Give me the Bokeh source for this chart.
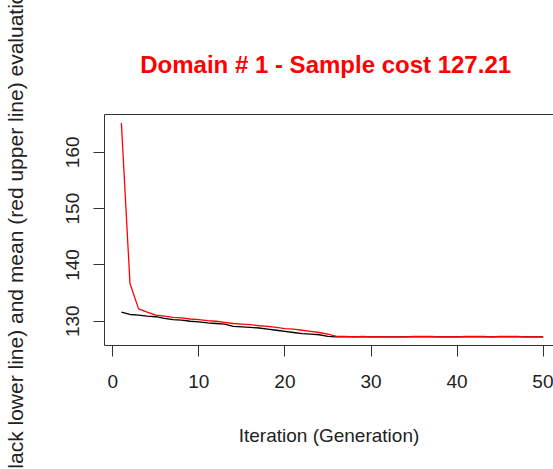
from bokeh.plotting import figure
from bokeh.models import Range1d, LinearAxis, FixedTicker
from bokeh.embed import file_html
from bokeh.resources import INLINE

# ---- data ----
iterations = list(range(1, 51))
best = [131.6, 131.2, 131.1, 130.9, 130.8, 130.5, 130.3, 130.2, 130.0, 129.9,
        129.7, 129.6, 129.5, 129.1, 129.0, 128.9, 128.8, 128.6, 128.4, 128.2,
        128.0, 127.8, 127.7, 127.6, 127.3, 127.21, 127.21, 127.21, 127.21, 127.21,
        127.21, 127.21, 127.21, 127.21, 127.21, 127.21, 127.21, 127.21, 127.21, 127.21,
        127.21, 127.21, 127.21, 127.21, 127.21, 127.21, 127.21, 127.21, 127.21, 127.21]
mean = [165.2, 136.7, 132.2, 131.6, 131.1, 130.9, 130.7, 130.6, 130.4, 130.3,
        130.1, 130.0, 129.8, 129.6, 129.5, 129.4, 129.2, 129.1, 128.9, 128.7,
        128.6, 128.4, 128.2, 128.0, 127.7, 127.3, 127.3, 127.21, 127.3, 127.21,
        127.21, 127.21, 127.21, 127.21, 127.3, 127.3, 127.3, 127.21, 127.21, 127.21,
        127.3, 127.3, 127.3, 127.21, 127.3, 127.3, 127.3, 127.21, 127.21, 127.21]
x_ticks = [0, 10, 20, 30, 40, 50]
y_ticks = [130, 140, 150, 160]
title_text = "Domain # 1  - Sample cost 127.21"
x_label = "Iteration (Generation)"
y_label = "Best (black lower line) and mean (red upper line) evaluation value"

FONT = "Liberation Sans"
AX = "#333333"

W, H = 553, 469
BL, BT, BB = 104, 114, 124          # borders (px)

lo = min(best + mean)
hi = max(best + mean)
pad = 0.04 * (hi - lo)
xpad = 0.04 * (iterations[-1] - iterations[0])
x0, x1 = iterations[0] - xpad, 51.2
y0, y1 = lo - pad, hi + pad

p = figure(width=W, height=H, output_backend="svg", toolbar_location=None,
           x_range=Range1d(x0, x1), y_range=Range1d(y0, y1),
           min_border_left=BL, min_border_right=0, min_border_top=BT,
           min_border_bottom=BB)

p.outline_line_color = None
p.grid.visible = False
p.background_fill_color = "white"
p.border_fill_color = "white"

# axes
for ax in (p.xaxis[0], p.yaxis[0]):
    ax.axis_line_color = AX
    ax.major_tick_line_color = AX
    ax.major_tick_out = 11
    ax.major_tick_in = 0
    ax.minor_tick_line_color = None
    ax.minor_tick_out = 0
    ax.minor_tick_in = 0
    ax.major_label_text_font = FONT
    ax.major_label_text_font_size = "19px"
    ax.major_label_text_color = "#222222"
    ax.axis_label_text_font = FONT
    ax.axis_label_text_font_size = "19px"
    ax.axis_label_text_font_style = "normal"
    ax.axis_label_text_color = "#222222"

p.xaxis[0].ticker = FixedTicker(ticks=x_ticks)
p.yaxis[0].ticker = FixedTicker(ticks=y_ticks)
p.xaxis[0].axis_label = x_label
p.xaxis[0].major_label_standoff = 18
p.xaxis[0].axis_label_standoff = 34
p.yaxis[0].major_label_orientation = "vertical"
p.yaxis[0].major_label_standoff = 14

# top border line of the box; it also carries the main title
top = LinearAxis(ticker=FixedTicker(ticks=[]), axis_line_color=AX,
                 major_tick_out=0, major_tick_in=0, minor_tick_out=0, minor_tick_in=0,
                 major_label_text_font_size="0px",
                 axis_label=title_text, axis_label_standoff=37,
                 axis_label_text_font=FONT, axis_label_text_font_style="bold",
                 axis_label_text_font_size="24px", axis_label_text_color="#FF0000")
p.add_layout(top, "above")

# y-axis title on a bare second left axis, near the left edge
ytitle = LinearAxis(ticker=FixedTicker(ticks=[]), axis_line_color=None,
                    major_tick_out=0, major_tick_in=0, minor_tick_out=0, minor_tick_in=0,
                    major_label_text_font_size="0px",
                    axis_label=y_label, axis_label_standoff=37,
                    axis_label_text_font=FONT, axis_label_text_font_size="21px",
                    axis_label_text_font_style="normal",
                    axis_label_text_color="#222222")
p.add_layout(ytitle, "left")

# lines
p.line(iterations, best, line_color="black", line_width=1.3)
p.line(iterations, mean, line_color="#FF0000", line_width=1.3)

open("out.html", "w").write(file_html(p, INLINE))
